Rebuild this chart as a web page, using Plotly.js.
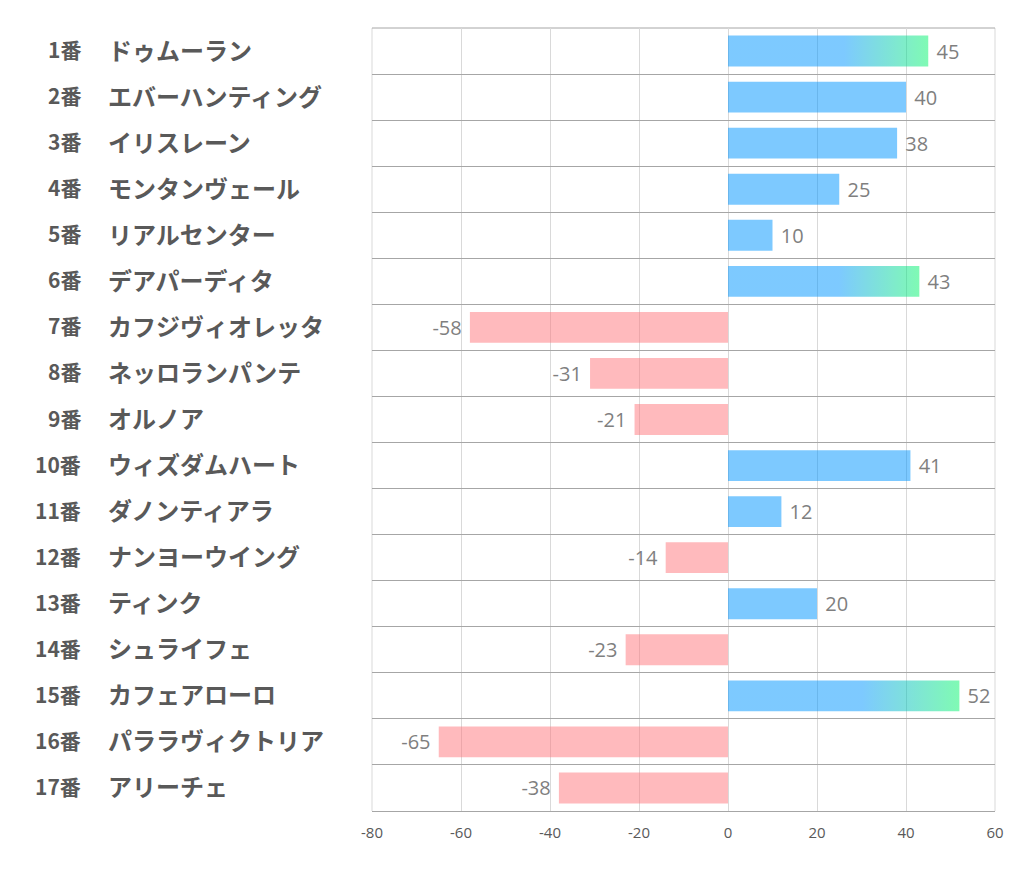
<!DOCTYPE html>
<html><head><meta charset="utf-8">
<script src="https://cdn.plot.ly/plotly-3.0.1.min.js"></script>
<style>html,body{margin:0;padding:0;background:#fff;}#chart{width:1022px;height:887px;}</style>
</head><body><div id="chart"></div>
<script>
const numbers = ["1番","2番","3番","4番","5番","6番","7番","8番","9番","10番","11番","12番","13番","14番","15番","16番","17番"];
const names = ["ドゥムーラン","エバーハンティング","イリスレーン","モンタンヴェール","リアルセンター","デアパーディタ","カフジヴィオレッタ","ネッロランパンテ","オルノア","ウィズダムハート","ダノンティアラ","ナンヨーウイング","ティンク","シュライフェ","カフェアローロ","パララヴィクトリア","アリーチェ"];
const values = [45,40,38,25,10,43,-58,-31,-21,41,12,-14,20,-23,52,-65,-38];
const xTicks = [-80,-60,-40,-20,0,20,40,60];

const BLUE = 'rgba(0,150,255,0.51)';
const PINK = 'rgba(255,118,124,0.5)';
const GREEN = 'rgba(0,245,105,0.5)';
const GRAD_MIN = 42;
const BAR_W = 0.67;

const idx = values.map((v,i)=>i);
const barColors = values.map(v => v > GRAD_MIN ? 'rgba(0,0,0,0)' : (v >= 0 ? BLUE : PINK));
const NB = '\u00a0';

const traces = [{
  type:'bar', orientation:'h', x: values, y: idx, width: BAR_W,
  marker:{color: barColors, line:{width:0}},
  text: values.map(v => v >= 0 ? NB + v : v + NB), textposition:'outside', cliponaxis:false,
  constraintext:'none',
  textfont:{family:'Open Sans, sans-serif', size:20, color:'#7f7f7f'},
  hoverinfo:'skip'
}];

values.forEach((v,i)=>{
  if (v > GRAD_MIN) {
    const h = BAR_W/2;
    traces.push({
      type:'scatter', mode:'none', x:[0,v,v,0,0], y:[i-h,i-h,i+h,i+h,i-h],
      fill:'toself',
      fillgradient:{type:'horizontal', start:0, stop:v,
        colorscale:[[0,BLUE],[0.58,BLUE],[1,GREEN]]},
      hoverinfo:'skip', showlegend:false
    });
  }
});

const annotations = [];
numbers.forEach((n,i)=>{
  annotations.push({xref:'paper', yref:'y', x:(83-372)/623, y:i, xanchor:'right', yanchor:'middle',
    text:'<b>'+n+'</b>', showarrow:false, yshift:2,
    font:{family:'Noto Sans CJK JP, sans-serif', size:21, color:'#595959'}});
  annotations.push({xref:'paper', yref:'y', x:(106-372)/623, y:i, xanchor:'left', yanchor:'middle',
    text:'<b>'+names[i]+'</b>', showarrow:false, yshift:2,
    font:{family:'Noto Sans CJK JP, sans-serif', size:24, color:'#595959'}});
});

const shapes = [
  {type:'line', xref:'paper', yref:'paper', x0:0, x1:0, y0:0, y1:1, line:{color:'#d9d9d9', width:1}, layer:'below'},
  {type:'line', xref:'paper', yref:'paper', x0:1, x1:1, y0:0, y1:1, line:{color:'#d9d9d9', width:1}, layer:'below'},
  {type:'line', xref:'paper', yref:'paper', x0:0, x1:1, y0:1, y1:1, line:{color:'#a6a6a6', width:1}, layer:'below'}
];

const layout = {
  width:1022, height:887,
  margin:{l:372, r:27, t:28, b:76},
  paper_bgcolor:'#fff', plot_bgcolor:'#fff',
  showlegend:false,
  xaxis:{range:[-80,60], tickvals:xTicks, ticktext:xTicks.map(String),
    showgrid:true, gridcolor:'#d9d9d9', gridwidth:1, zeroline:false,
    showline:true, linecolor:'#a6a6a6', linewidth:1, ticks:'', ticklabelstandoff:8,
    tickfont:{family:'Open Sans, sans-serif', size:15, color:'#595959'}, fixedrange:true},
  yaxis:{range:[16.5,-0.5], tick0:-0.5, dtick:1, showticklabels:false, ticks:'',
    showgrid:true, gridcolor:'#a6a6a6', gridwidth:1, zeroline:false, showline:false, fixedrange:true},
  shapes: shapes,
  annotations: annotations
};

Plotly.newPlot('chart', traces, layout, {staticPlot:true});
</script>
</body></html>
